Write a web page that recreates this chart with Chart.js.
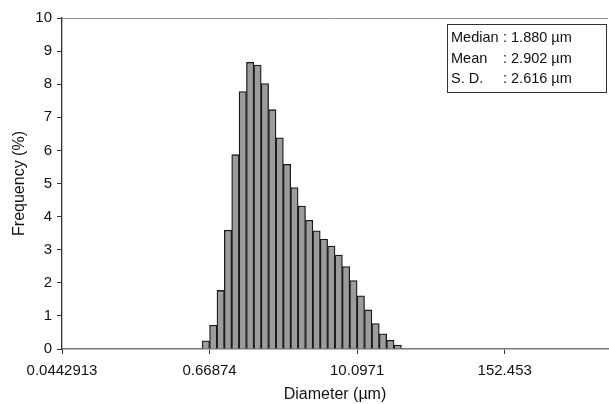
<!DOCTYPE html>
<html>
<head>
<meta charset="utf-8">
<script src="https://cdn.jsdelivr.net/npm/chart.js@4"></script>
<style>
  html, body { margin: 0; padding: 0; background: #fff; }
  #wrap { width: 609px; height: 404px; }
</style>
</head>
<body>
<div id="wrap"><canvas id="chart"></canvas></div>
<script>
// histogram data, one value per size bin (log spaced)
const tickLabels = ['0.0442913', '0.66874', '10.0971', '152.453'];
const binsPerTick = 20;
const binCount = 74;
const firstBin = 19;
const frequency = [0.25, 0.72, 1.77, 3.59, 5.87, 7.78, 8.66, 8.58, 8.02, 7.23, 6.38, 5.58, 4.88,
  4.32, 3.89, 3.57, 3.32, 3.11, 2.84, 2.49, 2.07, 1.61, 1.18, 0.77, 0.46, 0.26, 0.12];
const statLabels = ['Median', 'Mean', 'S. D.'];
const statValues = ['1.880', '2.902', '2.616'];

const FONT = "'Liberation Sans', Arial, Helvetica, sans-serif";

const statsBox = {
  id: 'statsBox',
  afterDraw(chart) {
    const ctx = chart.ctx;
    ctx.save();
    ctx.strokeStyle = '#333';
    ctx.lineWidth = 1;
    ctx.strokeRect(447.5, 24.5, 159, 68);
    ctx.fillStyle = '#111';
    ctx.font = '14.5px ' + FONT;
    ctx.textBaseline = 'middle';
    statLabels.forEach((lab, i) => {
      const y = 38 + i * 20.5;
      ctx.fillText(lab, 451, y);
      ctx.fillText(': ' + statValues[i] + ' \u00b5m', 503, y);
    });
    ctx.restore();
  }
};

new Chart(document.getElementById('chart'), {
  type: 'bar',
  data: {
    datasets: [{
      data: frequency.map((v, i) => ({ x: firstBin + i + 0.5, y: v })),
      backgroundColor: '#9c9c9c',
      borderColor: '#1a1a1a',
      borderWidth: 1.3,
      barPercentage: 1,
      categoryPercentage: 1
    }]
  },
  options: {
    responsive: true,
    maintainAspectRatio: false,
    animation: false,
    layout: { padding: { top: 18, right: 1, left: 0, bottom: 0 } },
    plugins: { legend: { display: false }, tooltip: { enabled: false } },
    scales: {
      x: {
        type: 'linear',
        min: 0,
        max: binCount,
        offset: false,
        afterBuildTicks: (scale) => {
          scale.ticks = tickLabels.map((_, i) => ({ value: i * binsPerTick }));
        },
        afterFit: (scale) => { scale.height = 55; },
        ticks: {
          autoSkip: false,
          maxRotation: 0,
          padding: 8,
          color: '#111',
          font: { family: FONT, size: 15 },
          callback: (v) => tickLabels[v / binsPerTick]
        },
        grid: { offset: false, drawOnChartArea: false, drawTicks: true, tickLength: 5, tickColor: '#333' },
        border: { display: true, color: '#777', width: 1.5 },
        title: {
          display: true,
          text: 'Diameter (\u00b5m)',
          color: '#111',
          font: { family: FONT, size: 16 },
          padding: { top: 4, bottom: 0 }
        }
      },
      y: {
        min: 0,
        max: 10,
        afterFit: (scale) => { scale.width = 62; },
        ticks: {
          stepSize: 1,
          padding: 5,
          color: '#111',
          font: { family: FONT, size: 15 }
        },
        grid: {
          drawOnChartArea: true,
          tickLength: 5,
          tickColor: '#333',
          color: (c) => (c.tick && c.tick.value === 10 ? '#999' : 'rgba(0,0,0,0)')
        },
        border: { display: true, color: '#333', width: 1.3 },
        title: {
          display: true,
          text: 'Frequency (%)',
          color: '#111',
          font: { family: FONT, size: 16 },
          padding: { top: 10, bottom: 0 }
        }
      }
    }
  },
  plugins: [statsBox]
});
</script>
</body>
</html>
